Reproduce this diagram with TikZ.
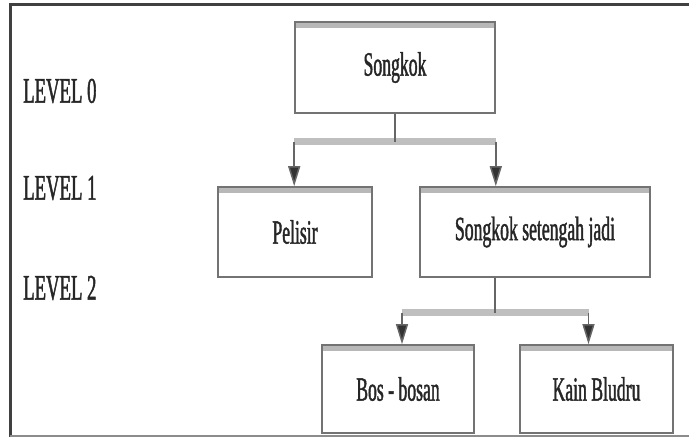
\documentclass[tikz,border=0pt]{standalone}
\usepackage{fontspec}
\setmainfont{Liberation Serif}[FakeStretch=0.52, FakeBold=1.2]
\usepackage{xcolor}
\usepackage{tikz}
\usetikzlibrary{positioning,arrows.meta}

\begin{document}
\begin{tikzpicture}[
  x=1pt, y=-1pt,
  box/.style={rectangle, draw=black!55, line width=1.6pt, fill=white,
              font=\fontsize{34}{37}\selectfont, text=black!85,
              path picture={\fill[black!28] (path picture bounding box.north west)
                rectangle ([yshift=-6pt]path picture bounding box.north east);}},
  lvl/.style={anchor=west, inner sep=0pt, font=\fontsize{36}{39}\selectfont,
              text=black!85},
  stem/.style={draw=black!60, line width=1.5pt},
  bar/.style={draw=black!25, line width=7pt},
  arr/.style={draw=black!60, line width=1.5pt,
              -{Triangle[length=20pt,width=12pt,fill=black!80]}}
]
  \useasboundingbox (0,0) rectangle (689,438);
  % frame
  \draw[black!75, line width=3pt] (10,437) -- (10,5) -- (689,5);
  \draw[black!45, line width=2pt] (10,436) -- (689,436);

  % level labels
  \node[lvl] (L0) at (23,91)  {LEVEL 0};
  \node[lvl] (L1) at (23,188) {LEVEL 1};
  \node[lvl] (L2) at (23,288) {LEVEL 2};

  % boxes
  \node[box, minimum width=200pt, minimum height=91pt] (songkok) at (395,67.5) {Songkok};
  \node[box, minimum width=154pt, minimum height=90pt] (pelisir) at (295,232) {Pelisir};
  \node[box, minimum width=230pt, minimum height=90pt] (ssj) at (535,232) {Songkok setengah jadi};
  \node[box, minimum width=152pt, minimum height=88pt] (bos) at (398,389) {Bos - bosan};
  \node[box, minimum width=153pt, minimum height=88pt] (kain) at (596.5,389) {Kain Bludru};

  % level 0 -> level 1
  \coordinate (j1) at (395,142);
  \draw[bar] (songkok.west |- j1) -- (songkok.east |- j1);
  \draw[stem] (songkok.south) -- (j1);
  \draw[arr] (songkok.west |- j1) -- (songkok.west |- pelisir.north);
  \draw[arr] (songkok.east |- j1) -- (songkok.east |- ssj.north);

  % level 1 -> level 2
  \coordinate (j2) at (495,313);
  \draw[bar] ([xshift=4pt]bos.north |- j2) -- ([xshift=-8pt]kain.north |- j2);
  \draw[stem] (j2 |- ssj.south) -- (j2);
  \draw[arr] ([xshift=4pt]bos.north |- j2) -- ([xshift=4pt]bos.north);
  \draw[arr] ([xshift=-8pt]kain.north |- j2) -- ([xshift=-8pt]kain.north);
\end{tikzpicture}
\end{document}
